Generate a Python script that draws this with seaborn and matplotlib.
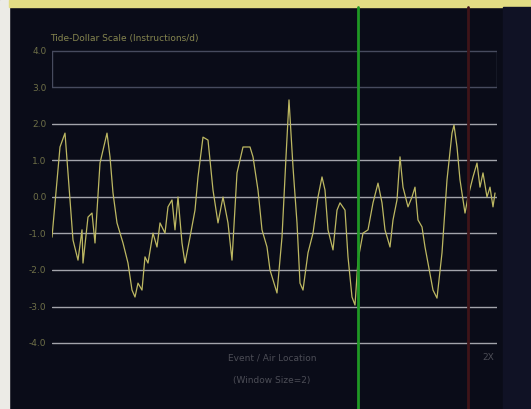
import numpy as np
import pandas as pd
import matplotlib
matplotlib.use("Agg")
import matplotlib.pyplot as plt
import seaborn as sns
from matplotlib.patches import Rectangle
from matplotlib.lines import Line2D

# Sample positions along the event axis and the smoothed score at each one
position = [0, 8, 13, 16, 21, 26, 30, 31, 36, 40, 43, 48, 55, 58, 61, 65, 71, 76, 80, 83,
            86, 90, 93, 96, 101, 105, 108, 113, 116, 120, 123, 126, 130, 133, 138, 143, 146, 151, 156, 161,
            166, 171, 176, 180, 185, 191, 198, 201, 206, 210, 215, 218, 225, 230, 234, 237, 241, 245, 248, 251,
            256, 261, 266, 270, 273, 276, 281, 285, 288, 293, 296, 300, 303, 306, 311, 316, 321, 326, 330, 333,
            338, 341, 345, 348, 351, 356, 360, 363, 366, 370, 373, 376, 381, 385, 390, 395, 400, 402, 405, 408,
            413, 416, 421, 425, 428, 431, 435, 438, 441, 443]
score = [-1.10, 1.37, 1.75, 0.66, -1.18, -1.73, -0.90, -1.81, -0.55, -0.44, -1.26, 0.93, 1.75, 1.10, 0.11, -0.71, -1.26, -1.81, -2.55, -2.74,
         -2.36, -2.55, -1.64, -1.81, -0.99, -1.37, -0.71, -0.99, -0.27, -0.08, -0.90, 0.00, -1.26, -1.81, -1.10, -0.36, 0.55, 1.64, 1.56, 0.19,
         -0.71, 0.00, -0.71, -1.73, 0.66, 1.37, 1.37, 1.10, 0.19, -0.90, -1.37, -2.00, -2.63, -1.10, 1.10, 2.66, 0.82, -0.71, -2.36, -2.55,
         -1.53, -0.99, 0.00, 0.55, 0.19, -0.90, -1.45, -0.36, -0.16, -0.36, -1.64, -2.74, -2.96, -1.73, -0.99, -0.90, -0.16, 0.38, -0.16, -0.90,
         -1.37, -0.63, -0.08, 1.10, 0.27, -0.27, 0.00, 0.27, -0.63, -0.82, -1.37, -1.81, -2.55, -2.77, -1.53, 0.47, 1.75, 1.97, 1.37, 0.47,
         -0.44, 0.00, 0.55, 0.93, 0.27, 0.66, 0.00, 0.27, -0.27, 0.11]

y_ticks = [4.0, 3.0, 2.0, 1.0, 0.0, -1.0, -2.0, -3.0, -4.0]
y_tick_labels = ["4.0", "3.0", "2.0", "1.0", "0.0", "-1.0", "-2.0", "-3.0", "-4.0"]

title_text = "Tide-Dollar Scale (Instructions/d)"
x_label_1 = "Event / Air Location"
x_label_2 = "(Window Size=2)"
corner_text = "2X"
marker_green = 306
marker_red = 416

sns.set_style("dark")
plt.rcParams["font.family"] = ["DejaVu Sans"]

W, H = 531, 409
bg = "#0a0c18"
fig = plt.figure(figsize=(W / 100, H / 100), dpi=100, facecolor=bg)

# frame strips around the panel
fig.patches.append(Rectangle((0, 0), 9 / W, 1, transform=fig.transFigure, color="#ecebe6", zorder=0))
fig.patches.append(Rectangle((9 / W, 1 - 7 / H), 1, 7 / H, transform=fig.transFigure, color="#e2dc84", zorder=0))
fig.patches.append(Rectangle((503 / W, 0), 28 / W, 1 - 7 / H, transform=fig.transFigure, color="#101225", zorder=0))

left_px, right_px = 52, 497
top_px, bot_px = 40, 350
ax = fig.add_axes([left_px / W, 1 - bot_px / H, (right_px - left_px) / W, (bot_px - top_px) / H])
ax.set_facecolor("none")
for s in ax.spines.values():
    s.set_visible(False)

ppu = 36.5
ax.set_ylim(-4.0 - (bot_px - 343) / ppu, 4.0 + (51 - top_px) / ppu)
ax.set_xlim(0, 445)

# horizontal grid, the top band drawn as a dim box
for v in y_ticks:
    col = "#474b5e" if v >= 3.0 else "#a3a4ab"
    ax.axhline(v, color=col, lw=1.0, zorder=1)
ax.plot([0, 0], [3.0, 4.0], color="#474b5e", lw=1.0, zorder=1)
ax.plot([445, 445], [3.0, 4.0], color="#474b5e", lw=1.0, zorder=1)

df = pd.DataFrame({"position": position, "score": score})
sns.lineplot(data=df, x="position", y="score", ax=ax, color="#bdb862", lw=0.9, zorder=3)

ax.set_yticks(y_ticks)
ax.set_yticklabels(y_tick_labels)
ax.tick_params(axis="y", length=0, pad=4, labelsize=6.5, labelcolor="#6f7048")
ax.set_xticks([])
ax.set_xlabel("")
ax.set_ylabel("")

# vertical marker lines running the full panel height
gx = (left_px + marker_green * (right_px - left_px) / 445) / W
rx = (left_px + marker_red * (right_px - left_px) / 445) / W
fig.add_artist(Line2D([gx, gx], [0, 1 - 7 / H], transform=fig.transFigure, color="#1f9824", lw=2.0, zorder=5))
fig.add_artist(Line2D([rx, rx], [0, 1 - 7 / H], transform=fig.transFigure, color="#3f1418", lw=2.0, zorder=2))

fig.text(50 / W, 1 - 38 / H, title_text, color="#85854f", fontsize=6.5, va="center", ha="left")
fig.text(272 / W, 1 - 358 / H, x_label_1, color="#4c4d56", fontsize=6.5, va="center", ha="center")
fig.text(272 / W, 1 - 381 / H, x_label_2, color="#4c4d56", fontsize=6.5, va="center", ha="center")
fig.text(488 / W, 1 - 358 / H, corner_text, color="#4c4d56", fontsize=6.5, va="center", ha="center")

fig.savefig("out.png", dpi=100, facecolor=bg)
